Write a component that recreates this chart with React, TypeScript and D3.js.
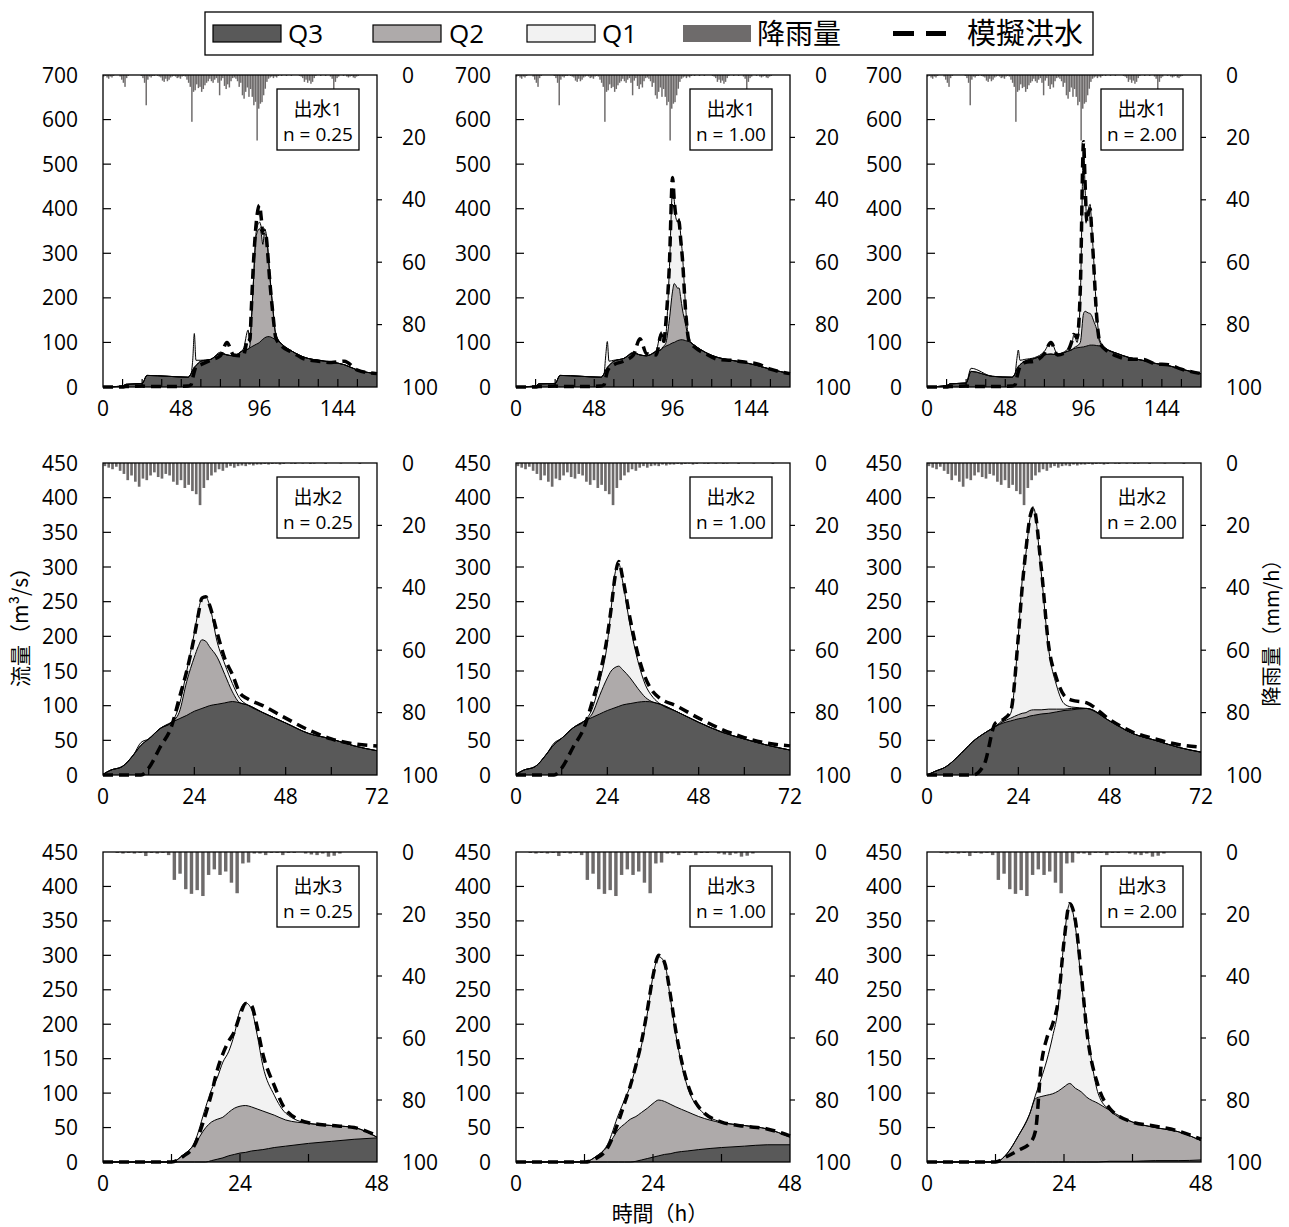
import { useEffect, useRef } from "react";
import * as d3 from "d3";

// time steps (h) of each flood event
const T1 = [0, 12, 14, 24, 27, 40, 52, 54, 55, 56, 57, 60, 66, 72, 76, 80, 86, 89, 90, 91, 92, 94, 96, 97, 98, 99, 100, 101, 102, 104, 106, 110, 116, 124, 132, 140, 148, 156, 168];
const T2 = [0, 2, 5, 8, 10, 12, 15, 18, 20, 22, 24, 25, 26, 27, 28, 30, 32, 34, 36, 38, 42, 48, 54, 60, 66, 72];
const T3 = [0, 6, 12, 14, 16, 18, 19, 20, 21, 22, 23, 24, 25, 26, 27, 28, 30, 32, 36, 40, 44, 48];

// hourly rainfall (mm/h)
const RAIN1 = [
  0.5, 0.3, 0.8, 1.2, 0.5, 0.8, 0.3, 0, 0, 0, 0.5, 1.5,
  2.5, 3.8, 1.0, 0.3, 0, 0, 0, 0, 0, 0, 0, 0.3,
  1.0, 2.5, 9.7, 1.5, 0.5, 0.8, 0.3, 0.3, 0, 0.3, 0.5, 0.8,
  1.8, 2.2, 1.2, 2.0, 1.5, 0.8, 0.5, 0.3, 0.5, 1.0, 0.8, 1.2,
  0.5, 0.3, 0.5, 1.5, 2.5, 3.8, 15.0, 5.4, 4.9, 3.0, 4.2, 3.8,
  5.4, 4.5, 3.3, 2.5, 2.0, 1.2, 2.0, 2.5, 1.5, 1.0, 2.5, 6.5,
  1.8, 1.0, 3.5, 4.5, 3.0, 4.0, 2.0, 1.0, 0.8, 1.2, 2.0, 3.8,
  2.5, 6.5, 7.6, 5.4, 4.0, 7.0, 4.5, 7.0, 9.7, 8.6, 21.0, 10.8,
  9.2, 8.7, 6.5, 4.4, 2.2, 1.2, 0.8, 0.5, 1.0, 0.5, 0.8, 0.3,
  0, 0.3, 0, 0, 0.3, 0, 0, 0.3, 0, 0, 0, 0,
  0.3, 0.5, 1.0, 2.2, 1.5, 2.5, 1.8, 2.8, 2.2, 1.0, 0.3, 0,
  0, 0.3, 0, 0, 0.3, 0, 0, 0.5, 1.2, 4.9, 2.2, 1.0,
  0.5, 0, 0, 0.3, 0, 0.5, 0.8, 0.5, 0.3, 0.8, 1.0, 0.5,
  0.3, 0, 0, 0, 0, 0, 0, 0, 0, 0, 0, 0,
];
const RAIN2 = [
  1.0, 1.5, 2.0, 1.2, 2.5, 3.5, 5.5, 4.0, 6.0, 7.6, 5.0, 5.5,
  4.0, 3.0, 4.5, 5.0, 3.5, 4.0, 6.0, 7.0, 5.5, 8.0, 7.0, 9.0,
  10.0, 13.5, 8.0, 5.5, 4.0, 3.0, 2.0, 2.5, 1.5, 1.0, 1.5, 1.0,
  0.8, 1.0, 0.5, 0.8, 0.5, 0.5, 0.3, 0.5, 0.3, 0.2, 0.5, 0.3,
  0, 0.2, 0.3, 0, 0.2, 0, 0.3, 0.2, 0, 0, 0.3, 0,
  0, 0, 0.2, 0, 0, 0, 0, 0.3, 0, 0, 0, 0,
];
const RAIN3 = [
  0, 0, 0.3, 0.5, 0.3, 0.5, 0.3, 1.3, 0.3, 0.5, 0.3, 1.0,
  9.0, 7.0, 12.0, 13.5, 12.3, 14.2, 7.4, 5.6, 7.4, 6.3, 9.9, 13.3,
  3.7, 3.4, 0.5, 0.5, 1.0, 0.3, 0.3, 1.0, 0.3, 0.3, 0, 0.5,
  0.8, 1.0, 0.5, 1.5, 1.2, 0.5, 0, 0, 0, 0, 0, 0,
];

// event 1 (m3/s)
const E1_025_Q3 = [0, 2, 6, 8, 26, 24, 22, 30, 38, 44, 48, 58, 62, 75, 72, 70, 82, 85, 88, 90, 92, 96, 100, 104, 107, 110, 112, 113, 113, 110, 106, 95, 80, 66, 60, 56, 50, 38, 30];
const E1_025_Q2 = [0, 0, 0, 0, 0, 0, 0, 0, 0, 0, 0, 0, 0, 0, 0, 0, 0, 0, 4, 60, 128, 244, 255, 241, 213, 235, 228, 197, 147, 70, 9, 0, 0, 0, 0, 0, 0, 0, 0];
const E1_025_Q1 = [0, 0, 0, 0, 0, 0, 0, 0, 22, 76, 12, 2, 0, 3, 0, 0, 3, 43, 8, 0, 0, 10, 15, 15, 30, 10, 5, 5, 5, 5, 3, 0, 0, 0, 0, 0, 0, 0, 0];
const E1_025_SIM = [0, 0, 1, 2, 1, 1, 2, 5, 20, 35, 45, 50, 60, 70, 100, 72, 70, 110, 105, 180, 260, 370, 408, 380, 345, 350, 340, 300, 250, 170, 110, 90, 78, 62, 58, 55, 58, 38, 30];

const E1_100_Q3 = [0, 2, 7, 8, 26, 24, 22, 30, 38, 44, 48, 58, 64, 76, 72, 70, 80, 84, 88, 90, 92, 95, 99, 100, 102, 104, 105, 106, 106, 104, 102, 92, 78, 66, 60, 55, 48, 40, 30];
const E1_100_Q2 = [0, 0, 0, 0, 0, 0, 0, 0, 0, 0, 0, 0, 0, 0, 0, 0, 0, 0, 2, 3, 8, 55, 116, 132, 126, 118, 117, 94, 69, 36, 3, 0, 0, 0, 0, 0, 0, 0, 0];
const E1_100_Q1 = [0, 0, 0, 0, 0, 0, 0, 0, 32, 58, 10, 2, 0, 2, 0, 0, 2, 40, 10, 7, 20, 110, 225, 188, 152, 150, 156, 140, 125, 40, 3, 0, 0, 0, 0, 0, 0, 0, 0];
const E1_100_SIM = [0, 0, 1, 2, 1, 1, 2, 5, 20, 35, 42, 50, 58, 72, 108, 75, 72, 118, 100, 110, 150, 270, 470, 420, 385, 375, 370, 330, 290, 170, 105, 88, 75, 62, 60, 56, 52, 40, 30];

const E1_200_Q3 = [0, 3, 7, 9, 35, 24, 22, 30, 40, 46, 50, 58, 64, 72, 74, 72, 80, 84, 86, 87, 88, 89, 90, 91, 92, 93, 94, 94, 94, 93, 92, 85, 76, 66, 60, 53, 48, 40, 30];
const E1_200_Q2 = [0, 0, 0, 0, 0, 0, 0, 0, 0, 0, 0, 0, 0, 0, 0, 0, 0, 0, 2, 3, 4, 11, 75, 79, 76, 73, 71, 66, 56, 37, 8, 0, 0, 0, 0, 0, 0, 0, 0];
const E1_200_Q1 = [0, 0, 0, 0, 7, 0, 0, 0, 20, 37, 10, 4, 2, 8, 28, 2, 4, 16, 29, 20, 8, 100, 375, 270, 212, 234, 245, 200, 150, 40, 5, 0, 0, 0, 0, 0, 0, 0, 0];
const E1_200_SIM = [0, 0, 1, 2, 1, 1, 2, 5, 20, 35, 45, 55, 58, 75, 100, 72, 80, 105, 118, 115, 110, 220, 550, 450, 370, 390, 400, 350, 290, 160, 100, 82, 70, 62, 62, 52, 50, 40, 30];

// event 2
const E2_025_Q3 = [1, 7, 12, 29, 43, 52, 67, 76, 81, 86, 92, 94, 96, 98, 100, 102, 104, 106, 104, 101, 90, 75, 60, 52, 42, 35];
const E2_025_Q2 = [0, 0, 0, 0, 0, 0, 0, 0, 9, 49, 78, 91, 99, 95, 85, 68, 41, 14, 0, 0, 0, 0, 0, 0, 0, 0];
const E2_025_Q1 = [0, 0, 0, 0, 4, 0, 0, 0, 10, 15, 35, 50, 60, 64, 60, 22, 15, 12, 6, 0, 0, 0, 0, 0, 0, 0];
const E2_025_SIM = [0, 0, 0, 0, 0, 10, 40, 70, 110, 150, 200, 230, 255, 257, 245, 205, 168, 145, 118, 110, 100, 82, 65, 52, 45, 42];

const E2_100_Q3 = [1, 7, 12, 30, 44, 53, 68, 78, 83, 88, 93, 95, 97, 99, 101, 103, 105, 106, 105, 102, 92, 76, 62, 52, 43, 36];
const E2_100_Q2 = [0, 0, 0, 0, 0, 0, 0, 0, 5, 27, 47, 55, 58, 58, 51, 37, 20, 6, 0, 0, 0, 0, 0, 0, 0, 0];
const E2_100_Q1 = [0, 0, 0, 0, 2, 0, 0, 0, 7, 20, 50, 90, 135, 148, 128, 75, 40, 18, 7, 0, 0, 0, 0, 0, 0, 0];
const E2_100_SIM = [0, 0, 0, 0, 0, 10, 40, 70, 105, 145, 200, 240, 285, 308, 285, 225, 175, 140, 120, 110, 100, 82, 66, 54, 46, 42];

const E2_200_Q3 = [0, 5, 12, 26, 37, 48, 60, 70, 75, 78, 81, 82, 83, 85, 86, 88, 89, 91, 93, 94, 96, 78, 60, 50, 40, 33];
const E2_200_Q2 = [0, 0, 0, 0, 0, 0, 0, 0, 2, 4, 6, 7, 7, 8, 8, 6, 6, 4, 2, 2, 0, 0, 0, 0, 0, 0];
const E2_200_Q1 = [0, 0, 0, 0, 0, 0, 0, 0, 3, 7, 113, 191, 230, 275, 291, 199, 85, 35, 8, 2, 0, 0, 0, 0, 0, 0];
const E2_200_SIM = [0, 0, 0, 0, 0, 0, 15, 75, 80, 92, 200, 270, 325, 370, 385, 300, 185, 140, 115, 108, 104, 80, 62, 52, 44, 40];

// event 3
const E3_025_Q3 = [0, 0, 0, 0, 0, 0, 2, 4, 6, 9, 11, 13, 14, 16, 17, 18, 21, 23, 27, 30, 33, 35];
const E3_025_Q2 = [0, 0, 0, 10, 25, 50, 56, 58, 59, 63, 67, 68, 68, 64, 60, 56, 47, 38, 29, 23, 17, 1];
const E3_025_Q1 = [0, 0, 0, 0, 3, 30, 47, 60, 80, 88, 107, 139, 149, 142, 108, 66, 29, 10, 0, 0, 0, 0];
const E3_025_SIM = [0, 0, 0, 8, 24, 70, 99, 133, 157, 175, 189, 213, 230, 227, 196, 157, 111, 76, 57, 53, 50, 38];

const E3_100_Q3 = [0, 0, 0, 0, 0, 0, 0, 0, 1, 3, 5, 7, 9, 11, 12, 14, 16, 18, 21, 23, 25, 25];
const E3_100_Q2 = [0, 0, 0, 8, 22, 48, 55, 62, 65, 69, 73, 78, 81, 77, 72, 66, 57, 48, 36, 30, 23, 11];
const E3_100_Q1 = [0, 0, 0, 0, 3, 22, 35, 48, 72, 98, 137, 185, 208, 202, 156, 105, 37, 12, 1, 0, 0, 0];
const E3_100_SIM = [0, 0, 0, 5, 20, 60, 85, 110, 140, 175, 220, 270, 300, 290, 245, 190, 115, 80, 58, 52, 48, 38];

const E3_200_Q3 = [0, 0, 0, 0, 0, 0, 0, 0, 0, 0, 0, 0, 0, 0, 0, 0, 0, 1, 1, 2, 2, 3];
const E3_200_Q2 = [0, 0, 0, 12, 38, 70, 92, 95, 97, 99, 103, 109, 114, 107, 102, 94, 85, 74, 57, 48, 42, 28];
const E3_200_Q1 = [0, 0, 0, 0, 0, 0, 5, 26, 51, 83, 122, 213, 261, 234, 162, 102, 14, 0, 0, 0, 0, 0];
const E3_200_SIM = [0, 0, 0, 8, 17, 27, 45, 140, 180, 200, 235, 320, 375, 350, 275, 190, 110, 78, 58, 52, 45, 33];

const EVENT_NAMES = ["出水1", "出水2", "出水3"];
const N_NAMES = ["n = 0.25", "n = 1.00", "n = 2.00"];
const Q_TICKS_1 = [0, 100, 200, 300, 400, 500, 600, 700];
const Q_TICKS_23 = [0, 50, 100, 150, 200, 250, 300, 350, 400, 450];
const RAIN_TICKS = [0, 20, 40, 60, 80, 100];
const X_LABELS_1 = [0, 48, 96, 144];
const X_LABELS_2 = [0, 24, 48, 72];
const X_LABELS_3 = [0, 24, 48];

const C_Q3 = "#595959";
const C_Q2 = "#aeaaaa";
const C_Q1 = "#f2f2f2";
const C_RAIN = "#6e6b6b";
const FONT = "'Open Sans', 'Noto Sans CJK JP', sans-serif";
const CJK = "'Noto Sans CJK JP', 'Open Sans', sans-serif";

const rowsDef = [
  {
    t: T1, tMax: 168, qMax: 700, qTicks: Q_TICKS_1, xLabels: X_LABELS_1, rain: RAIN1, barFrac: 0.9,
    runs: [
      { q3: E1_025_Q3, q2: E1_025_Q2, q1: E1_025_Q1, sim: E1_025_SIM },
      { q3: E1_100_Q3, q2: E1_100_Q2, q1: E1_100_Q1, sim: E1_100_SIM },
      { q3: E1_200_Q3, q2: E1_200_Q2, q1: E1_200_Q1, sim: E1_200_SIM },
    ],
  },
  {
    t: T2, tMax: 72, qMax: 450, qTicks: Q_TICKS_23, xLabels: X_LABELS_2, rain: RAIN2, barFrac: 0.7,
    runs: [
      { q3: E2_025_Q3, q2: E2_025_Q2, q1: E2_025_Q1, sim: E2_025_SIM },
      { q3: E2_100_Q3, q2: E2_100_Q2, q1: E2_100_Q1, sim: E2_100_SIM },
      { q3: E2_200_Q3, q2: E2_200_Q2, q1: E2_200_Q1, sim: E2_200_SIM },
    ],
  },
  {
    t: T3, tMax: 48, qMax: 450, qTicks: Q_TICKS_23, xLabels: X_LABELS_3, rain: RAIN3, barFrac: 0.6,
    runs: [
      { q3: E3_025_Q3, q2: E3_025_Q2, q1: E3_025_Q1, sim: E3_025_SIM },
      { q3: E3_100_Q3, q2: E3_100_Q2, q1: E3_100_Q1, sim: E3_100_SIM },
      { q3: E3_200_Q3, q2: E3_200_Q2, q1: E3_200_Q1, sim: E3_200_SIM },
    ],
  },
];

const COL_X = [103, 516, 927];
const ROW_Y = [75, 463, 852];
const ROW_H = [312, 312, 310];
const PW = 274;

const App = () => {
  const svgRef = useRef(null);

  useEffect(() => {
    const svg = d3.select(svgRef.current);
    svg.selectAll("*").remove();

    rowsDef.forEach((row, ri) => {
      const h = ROW_H[ri];
      const x = d3.scaleLinear().domain([0, row.tMax]).range([0, PW]);
      const y = d3.scaleLinear().domain([0, row.qMax]).range([h, 0]);
      const yr = d3.scaleLinear().domain([0, 100]).range([0, h]);
      const step = x(1) - x(0);
      const bw = step * row.barFrac;

      row.runs.forEach((run, ci) => {
        const g = svg
          .append("g")
          .attr("transform", `translate(${COL_X[ci]},${ROW_Y[ri]})`);

        // rainfall bars hang from the top
        g.selectAll(".rain")
          .data(row.rain)
          .join("rect")
          .attr("x", (d, i) => x(i + 0.5) - bw / 2)
          .attr("width", bw)
          .attr("y", 0)
          .attr("height", (d) => yr(d))
          .attr("fill", C_RAIN);

        // stacked discharge components
        const table = row.t.map((t, i) => ({ t, q3: run.q3[i], q2: run.q2[i], q1: run.q1[i] }));
        const stacked = d3.stack().keys(["q3", "q2", "q1"])(table);
        const fills = { q3: C_Q3, q2: C_Q2, q1: C_Q1 };
        const curve = d3.curveMonotoneX;
        const area = d3
          .area()
          .x((d) => x(d.data.t))
          .y0(h)
          .y1((d) => y(d[1]))
          .curve(curve);
        const top = d3
          .line()
          .x((d) => x(d.data.t))
          .y((d) => y(d[1]))
          .curve(curve);

        stacked
          .slice()
          .reverse()
          .forEach((layer) => {
            g.append("path").datum(layer).attr("d", area).attr("fill", fills[layer.key]);
          });
        stacked.forEach((layer) => {
          g.append("path")
            .datum(layer)
            .attr("d", top)
            .attr("fill", "none")
            .attr("stroke", "#000")
            .attr("stroke-width", 1);
        });

        // simulated flood
        const sim = d3
          .line()
          .x((d, i) => x(row.t[i]))
          .y((d) => y(d))
          .curve(curve);
        g.append("path")
          .datum(run.sim)
          .attr("d", sim)
          .attr("fill", "none")
          .attr("stroke", "#000")
          .attr("stroke-width", 3.5)
          .attr("stroke-dasharray", "10,6");

        // frame
        g.append("rect")
          .attr("width", PW)
          .attr("height", h)
          .attr("fill", "none")
          .attr("stroke", "#000")
          .attr("stroke-width", 1.3);

        // left axis
        row.qTicks.forEach((v) => {
          if (v > 0 && v < row.qMax) {
            g.append("line")
              .attr("x1", 0).attr("x2", 8)
              .attr("y1", y(v)).attr("y2", y(v))
              .attr("stroke", "#000").attr("stroke-width", 1.2);
          }
          g.append("text")
            .attr("x", -25)
            .attr("y", y(v))
            .attr("dy", "0.36em")
            .attr("text-anchor", "end")
            .attr("font-family", FONT)
            .attr("font-size", 21)
            .text(v);
        });

        // right (rainfall) axis
        RAIN_TICKS.forEach((v) => {
          if (v > 0 && v < 100) {
            g.append("line")
              .attr("x1", PW).attr("x2", PW + 5)
              .attr("y1", yr(v)).attr("y2", yr(v))
              .attr("stroke", "#000").attr("stroke-width", 1.2);
          }
          g.append("text")
            .attr("x", PW + 25)
            .attr("y", yr(v))
            .attr("dy", "0.36em")
            .attr("font-family", FONT)
            .attr("font-size", 21)
            .text(v);
        });

        // bottom axis
        d3.range(12, row.tMax, 12).forEach((t) => {
          g.append("line")
            .attr("x1", x(t)).attr("x2", x(t))
            .attr("y1", h).attr("y2", h - 8)
            .attr("stroke", "#000").attr("stroke-width", 1.2);
        });
        row.xLabels.forEach((t) => {
          g.append("text")
            .attr("x", x(t))
            .attr("y", h + 29)
            .attr("text-anchor", "middle")
            .attr("font-family", FONT)
            .attr("font-size", 21)
            .text(t);
        });

        // label box
        const boxW = 82;
        const bx = PW - 18 - boxW;
        g.append("rect")
          .attr("x", bx).attr("y", 14)
          .attr("width", boxW).attr("height", 61)
          .attr("fill", "#fff").attr("stroke", "#000").attr("stroke-width", 1.3);
        g.append("text")
          .attr("x", bx + boxW / 2).attr("y", 41)
          .attr("text-anchor", "middle")
          .attr("font-family", FONT)
          .attr("font-size", 19)
          .text(EVENT_NAMES[ri]);
        g.append("text")
          .attr("x", bx + boxW / 2).attr("y", 66)
          .attr("text-anchor", "middle")
          .attr("font-family", FONT)
          .attr("font-size", 19)
          .text(N_NAMES[ci]);
      });
    });

    // legend
    const lg = svg.append("g");
    lg.append("rect")
      .attr("x", 205).attr("y", 12).attr("width", 888).attr("height", 43)
      .attr("fill", "#fff").attr("stroke", "#000").attr("stroke-width", 1.3);
    const swatches = [
      { x: 213, fill: C_Q3, stroke: "#000", label: "Q3", tx: 288 },
      { x: 373, fill: C_Q2, stroke: "#000", label: "Q2", tx: 449 },
      { x: 527, fill: C_Q1, stroke: "#000", label: "Q1", tx: 602 },
      { x: 683, fill: C_RAIN, stroke: "none", label: "降雨量", tx: 757 },
    ];
    swatches.forEach((s) => {
      lg.append("rect")
        .attr("x", s.x).attr("y", 25).attr("width", 68).attr("height", 17)
        .attr("fill", s.fill).attr("stroke", s.stroke).attr("stroke-width", 1.2);
      lg.append("text")
        .attr("x", s.tx).attr("y", 33.5).attr("dy", "0.36em")
        .attr("font-family", s.label.startsWith("Q") ? FONT : CJK)
        .attr("font-size", s.label.startsWith("Q") ? 26 : 28)
        .text(s.label);
    });
    lg.append("line")
      .attr("x1", 893).attr("x2", 946).attr("y1", 33.5).attr("y2", 33.5)
      .attr("stroke", "#000").attr("stroke-width", 5).attr("stroke-dasharray", "21,12");
    lg.append("text")
      .attr("x", 967).attr("y", 33.5).attr("dy", "0.36em")
      .attr("font-family", CJK).attr("font-size", 29)
      .text("模擬洪水");

    // axis titles
    svg.append("text")
      .attr("transform", "translate(20,622) rotate(-90)")
      .attr("text-anchor", "middle").attr("dy", "0.36em")
      .attr("font-family", CJK).attr("font-size", 21)
      .text("流量（m³/s）");
    svg.append("text")
      .attr("transform", "translate(1272,628) rotate(-90)")
      .attr("text-anchor", "middle").attr("dy", "0.36em")
      .attr("font-family", CJK).attr("font-size", 20)
      .text("降雨量（mm/h）");
    svg.append("text")
      .attr("x", 660).attr("y", 1213).attr("dy", "0.36em")
      .attr("text-anchor", "middle")
      .attr("font-family", CJK).attr("font-size", 21)
      .text("時間（h）");
  }, []);

  return (
    <svg
      ref={svgRef}
      width={1289}
      height={1227}
      style={{ position: "absolute", left: 0, top: 0, background: "#fff" }}
    />
  );
};

export default App;
